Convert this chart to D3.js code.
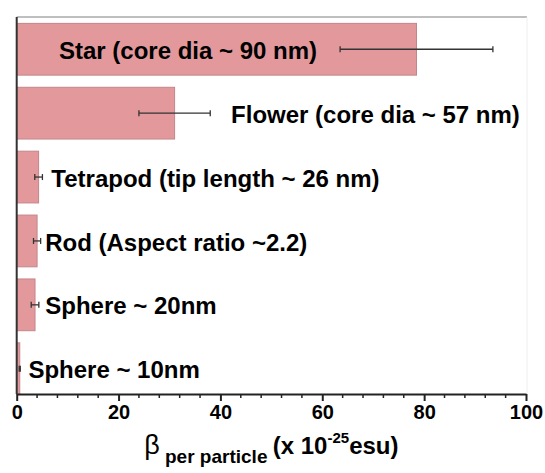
<!DOCTYPE html>
<html lang="en">
<head>
    <meta charset="UTF-8">
    <title>beta per particle</title>
    <script src="https://cdn.jsdelivr.net/npm/d3@7"></script>
    <style>
        body { margin: 0; background: #fff; }
        text { font-family: "Liberation Sans", Arial, sans-serif; }
    </style>
</head>
<body>
    <script>
        // data, top to bottom
        var shapes = ["Star (core dia ~ 90 nm)", "Flower (core dia ~ 57 nm)", "Tetrapod (tip length ~ 26 nm)",
                      "Rod (Aspect ratio ~2.2)", "Sphere ~ 20nm", "Sphere ~ 10nm"];
        var beta = [78.5, 31.0, 4.3, 4.0, 3.6, 0.6];
        var betaErr = [15, 7, 0.75, 0.7, 0.75, 0.1];
        var xTicks = [0, 20, 40, 60, 80, 100];

        // where each label starts (axis units), layout only
        var labelAt = [8.3, 42.1, 6.8, 5.6, 5.6, 2.3];

        var width = 545, height = 473;
        var margin = {top: 17, left: 16.7, right: 19, bottom: 79};

        var svg = d3.select("body").append("svg")
                .attr("width", width).attr("height", height);

        var x = d3.scaleLinear().domain([0, 100])
                .range([margin.left, width - margin.right]);
        var yAxis = height - margin.bottom;   // 394
        var y = d3.scaleBand().domain(shapes)
                .range([margin.top, yAxis + 7])
                .paddingInner(0.19).paddingOuter(0.1);

        var x0 = x(0);

        // faint frame
        svg.append("line").attr("x1", x0).attr("x2", x(100) + 1).attr("y1", margin.top).attr("y2", margin.top)
                .attr("stroke", "#aaaaaa").attr("stroke-width", 1.3);
        svg.append("line").attr("x1", x(100) + 1).attr("x2", x(100) + 1).attr("y1", margin.top).attr("y2", yAxis)
                .attr("stroke", "#eeeeee");

        /* bars */
        svg.selectAll("rect.bar").data(shapes).enter().append("rect")
                .attr("class", "bar")
                .attr("x", x0)
                .attr("y", function(d){ return y(d); })
                .attr("width", function(d, i){ return x(beta[i]) - x0; })
                .attr("height", function(d){ return Math.min(y.bandwidth(), yAxis - y(d)); })
                .attr("fill", "#e3999c")
                .attr("stroke", "#c2868a").attr("stroke-width", 1);

        /* error bars */
        var eb = svg.selectAll("g.err").data(shapes).enter().append("g")
                .attr("class", "err")
                .attr("transform", function(d){ return "translate(0," + (y(d) + y.bandwidth() / 2) + ")"; })
                .attr("stroke", "#333").attr("stroke-width", 1.3);
        eb.append("line")
                .attr("x1", function(d, i){ return x(beta[i] - betaErr[i]); })
                .attr("x2", function(d, i){ return x(beta[i] + betaErr[i]); });
        eb.append("line")
                .attr("x1", function(d, i){ return x(beta[i] - betaErr[i]); })
                .attr("x2", function(d, i){ return x(beta[i] - betaErr[i]); })
                .attr("y1", -3).attr("y2", 3);
        eb.append("line")
                .attr("x1", function(d, i){ return x(beta[i] + betaErr[i]); })
                .attr("x2", function(d, i){ return x(beta[i] + betaErr[i]); })
                .attr("y1", -3).attr("y2", 3);

        /* labels */
        svg.selectAll("text.lab").data(shapes).enter().append("text")
                .attr("class", "lab")
                .attr("x", function(d, i){ return x(labelAt[i]); })
                .attr("y", function(d){ return y(d) + y.bandwidth() / 2; })
                .attr("dy", "0.4em")
                .attr("font-size", "24px").attr("font-weight", "bold")
                .attr("fill", "#000")
                .text(function(d){ return d; });

        /* left axis line */
        svg.append("line").attr("x1", x0).attr("x2", x0).attr("y1", margin.top).attr("y2", yAxis)
                .attr("stroke", "#333").attr("stroke-width", 2);

        /* x axis */
        var minor = d3.range(0, 101, 4).filter(function(v){ return v % 20 !== 0; });
        var gx = svg.append("g").attr("transform", "translate(0," + yAxis + ")");
        gx.call(d3.axisBottom(x).tickValues(xTicks).tickSize(7).tickSizeOuter(0).tickPadding(4))
                .call(function(g){
                    g.select(".domain").attr("stroke", "#222").attr("stroke-width", 2);
                    g.selectAll(".tick line").attr("stroke", "#222").attr("stroke-width", 2);
                    g.selectAll(".tick text").attr("font-size", "20px").attr("font-weight", "bold")
                            .attr("font-family", "'Liberation Sans', Arial, sans-serif").attr("fill", "#000");
                });
        gx.selectAll("line.minor").data(minor).enter().append("line")
                .attr("class", "minor")
                .attr("x1", function(d){ return x(d); }).attr("x2", function(d){ return x(d); })
                .attr("y1", 0).attr("y2", 4)
                .attr("stroke", "#222").attr("stroke-width", 1.5);

        /* axis title */
        var t = svg.append("text")
                .attr("x", (x(0) + x(100)) / 2).attr("y", 454)
                .attr("text-anchor", "middle")
                .attr("font-weight", "bold").attr("fill", "#000");
        t.append("tspan").attr("font-size", "27px").attr("font-weight", "normal").text("β");
        t.append("tspan").attr("font-size", "19px").attr("dy", 9).text(" per particle ");
        t.append("tspan").attr("font-size", "24px").attr("dy", -9).text("(x 10");
        t.append("tspan").attr("font-size", "15px").attr("dy", -11).text("-25");
        t.append("tspan").attr("font-size", "24px").attr("dy", 11).text("esu)");
    </script>
</body>
</html>
